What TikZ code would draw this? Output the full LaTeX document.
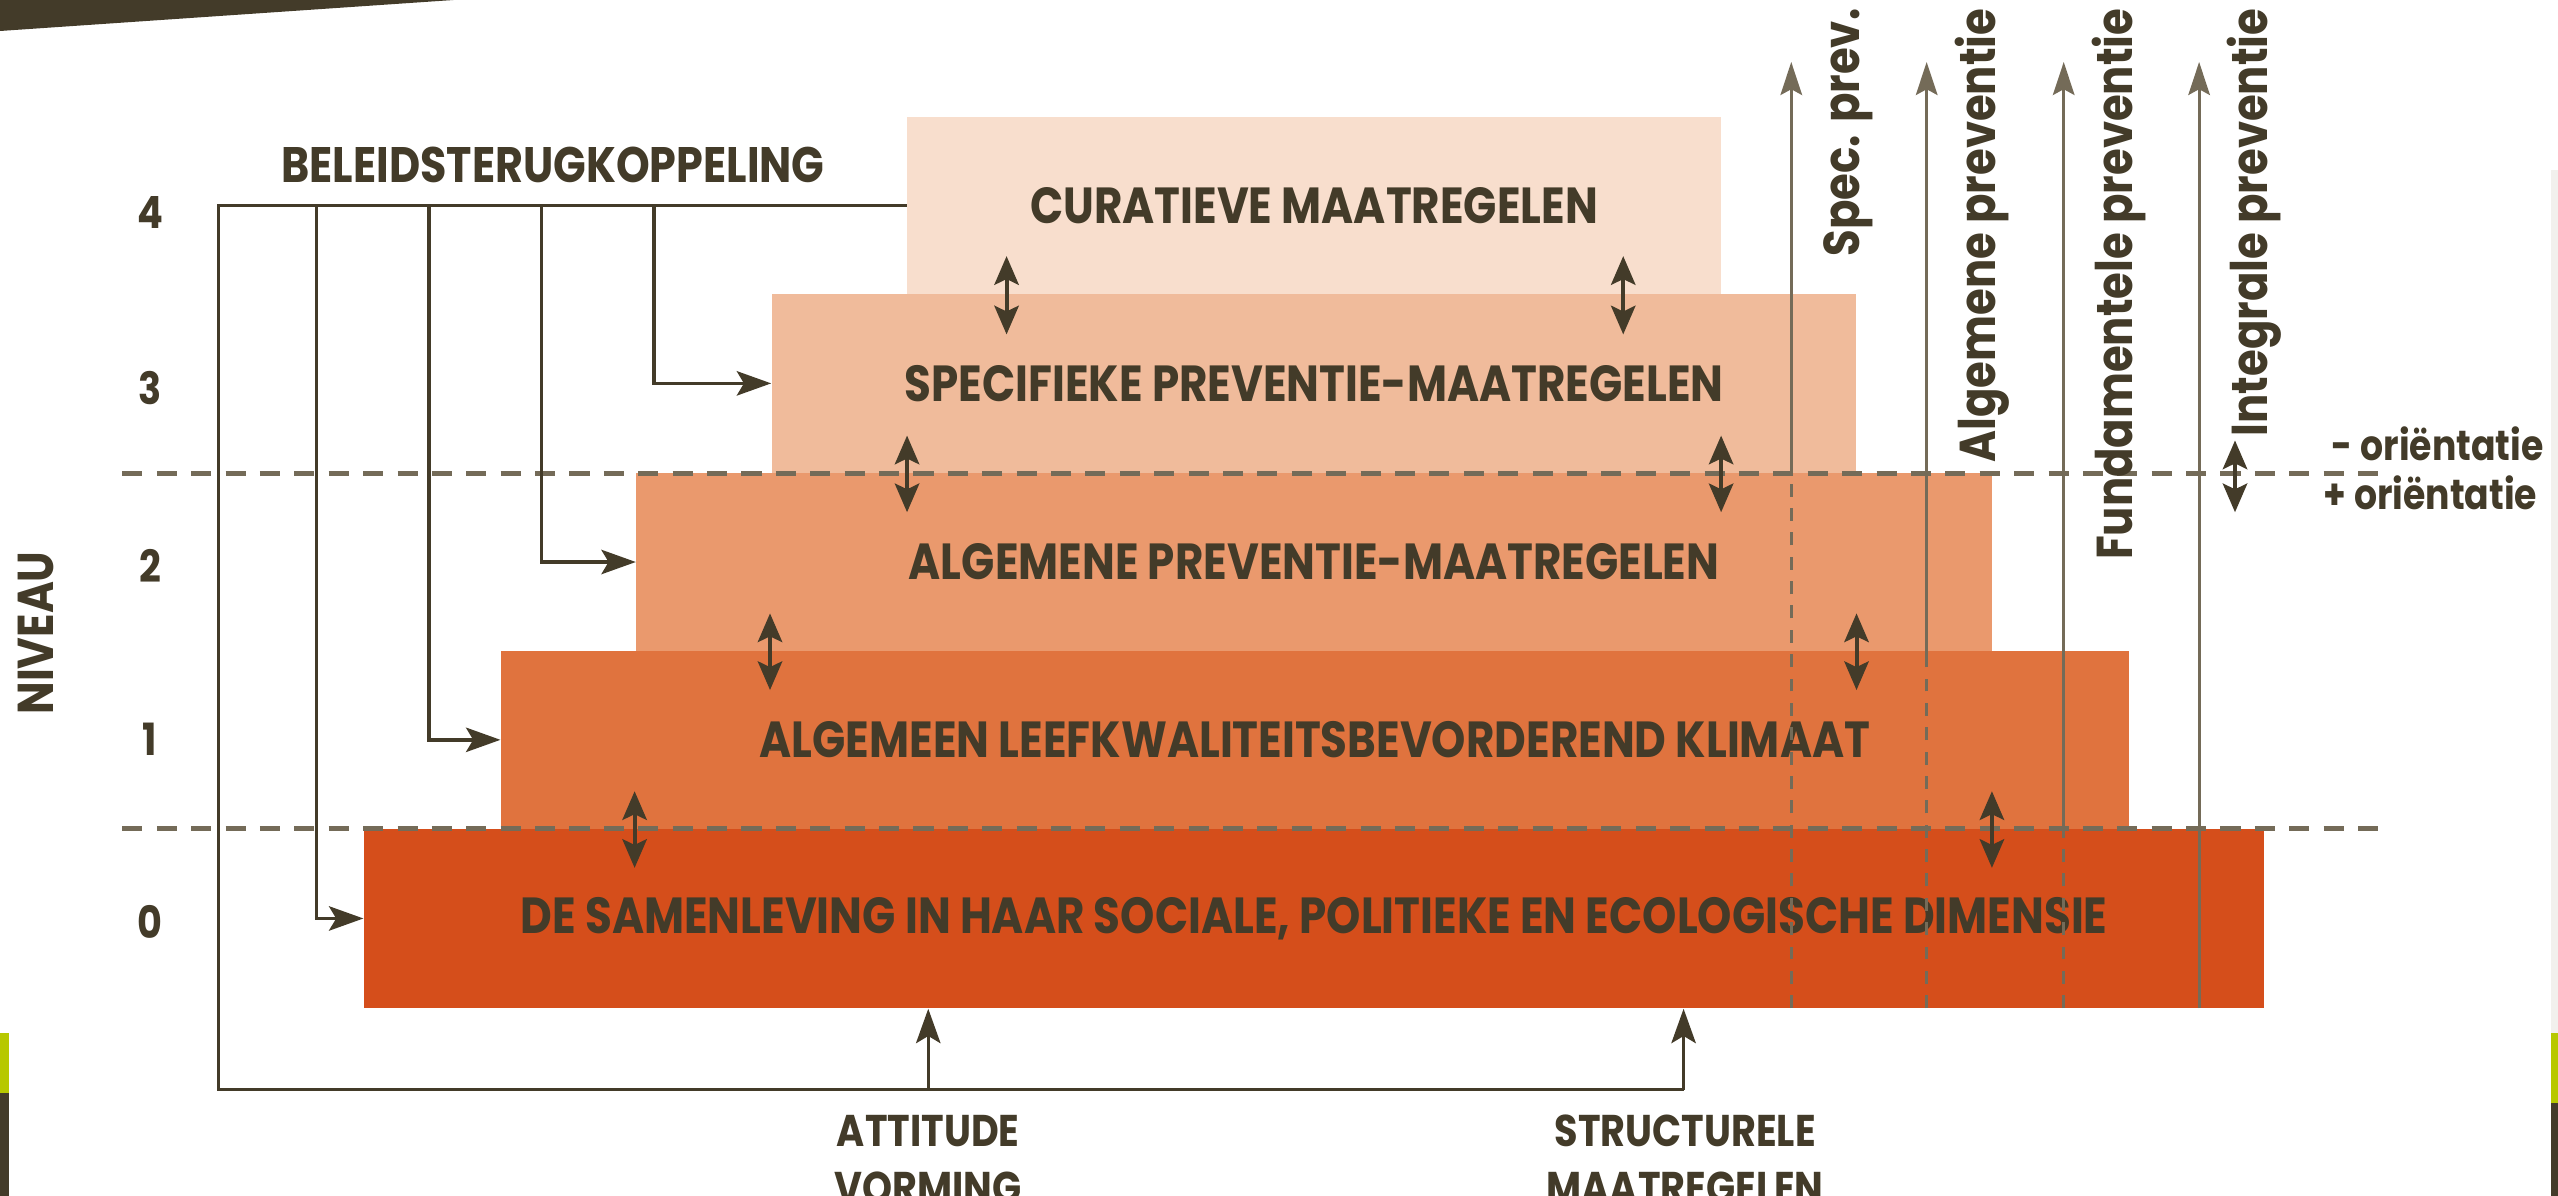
\documentclass[tikz,border=0pt]{standalone}
\usepackage{fontspec}
\newfontfamily\gothic[FakeStretch=0.86]{Poppins}
\usetikzlibrary{arrows.meta}

\definecolor{ink}{HTML}{433B29}
\definecolor{rule}{HTML}{746B58}
\definecolor{lime}{HTML}{B7C800}
\definecolor{paper}{HTML}{F2F0ED}
\definecolor{lvlzero}{HTML}{D54E1B}
\definecolor{lvlone}{HTML}{E0733E}
\definecolor{lvltwo}{HTML}{EA996D}
\definecolor{lvlthree}{HTML}{F0BB9B}
\definecolor{lvlfour}{HTML}{F8DECD}

\begin{document}
\begin{tikzpicture}[
  x=0.02cm, y=-0.02cm,
  level/.style={rectangle, inner sep=0pt, text=ink, font=\gothic\bfseries\fontsize{17.7}{20}\selectfont},
  axis/.style={text=ink, inner sep=0pt, font=\gothic\bfseries\fontsize{15.5}{20}\selectfont},
  vlabel/.style={rotate=90, anchor=base east, text=ink, inner sep=0pt, font=\gothic\bfseries\fontsize{17.6}{20}\selectfont},
  olabel/.style={anchor=west, text=ink, inner sep=0pt, font=\gothic\bfseries\fontsize{14.7}{17}\selectfont},
  fb/.style={draw=ink, line width=1.2pt},
  fbarrow/.style={fb, -{Stealth[length=12pt, width=8.5pt, inset=2.5pt]}},
  dbl/.style={draw=ink, line width=1.4pt, {Stealth[length=10pt, width=8.5pt, inset=2pt]}-{Stealth[length=10pt, width=8.5pt, inset=2pt]}},
  split/.style={draw=rule, line width=1.7pt, dash pattern=on 7pt off 5pt},
  prev/.style={draw=rule, line width=1.1pt, -{Stealth[length=11.5pt, width=7.5pt, inset=2pt]}},
  prevdash/.style={draw=rule, line width=1.1pt, dash pattern=on 4.5pt off 4pt}
]
\useasboundingbox (0,0) rectangle (1568,733);
\fill[white] (0,0) rectangle (1568,733);

% Slide trim
\fill[ink] (0,0) -- (278,0) -- (0,19) -- cycle;
\fill[lime] (0,633) rectangle (5.5,670);
\fill[ink] (0,670) rectangle (5.5,733);
\fill[paper] (1563.5,104) rectangle (1568,633);
\fill[lime] (1563.5,633) rectangle (1568,676);
\fill[ink] (1563.5,676) rectangle (1568,733);

% Five levels as stacked boxes
\node[level, fill=lvlfour, minimum width=9.98cm, minimum height=2.16cm] (L4) at (805.5,126) {CURATIEVE MAATREGELEN};
\node[level, fill=lvlthree, minimum width=13.3cm, minimum height=2.2cm] (L3) at (805.5,235) {SPECIFIEKE PREVENTIE-MAATREGELEN};
\node[level, fill=lvltwo, minimum width=16.62cm, minimum height=2.18cm] (L2) at (805.5,344.5) {ALGEMENE PREVENTIE-MAATREGELEN};
\node[level, fill=lvlone, minimum width=19.96cm, minimum height=2.18cm] (L1) at (806,453.5) {ALGEMEEN LEEFKWALITEITSBEVORDEREND KLIMAAT};
\node[level, fill=lvlzero, minimum width=23.3cm, minimum height=2.2cm] (L0) at (805.5,563) {DE SAMENLEVING IN HAAR SOCIALE, POLITIEKE EN ECOLOGISCHE DIMENSIE};

% Orientation borders
\draw[split] (75,290) -- (1466,290);
\draw[split] (75,508) -- (1466,508);

% Axis labels
\node[axis] (n4) at (92,130) {4};
\node[axis] (n3) at (92,238) {3};
\node[axis] (n2) at (92,347) {2};
\node[axis] (n1) at (92,453) {1};
\node[axis] (n0) at (92,565) {0};
\node[axis, rotate=90, font=\gothic\bfseries\fontsize{17.6}{20}\selectfont] (niveau) at (22,388) {NIVEAU};
\node[axis, font=\gothic\bfseries\fontsize{17.4}{20}\selectfont] (beleid) at (339,101) {BELEIDSTERUGKOPPELING};
\node[axis, align=center, anchor=north] (attlbl) at (569,683) {ATTITUDE\\VORMING};
\node[axis, align=center, anchor=north] (strlbl) at (1033,683) {STRUCTURELE\\MAATREGELEN};

% Policy feedback loop
\coordinate (fbtop) at (134,126);
\coordinate (fbbot) at (134,668);
\coordinate (att) at (569,668);
\coordinate (str) at (1032,668);
\draw[fb] (L4.west) -- (fbtop) -- (fbbot) -- (str);
\draw[fbarrow] (att) -- (att |- L0.south);
\draw[fbarrow] (str) -- (str |- L0.south);
\coordinate (b0) at (194,126);
\coordinate (b1) at (263,126);
\coordinate (b2) at (332,126);
\coordinate (b3) at (401,126);
\draw[fbarrow] (b0) |- (L0.west);
\draw[fbarrow] (b1) |- (L1.west);
\draw[fbarrow] (b2) |- (L2.west);
\draw[fbarrow] (b3) |- (L3.west);

% Interaction between levels
\draw[dbl] (617,157) -- (617,205);
\draw[dbl] (995,157) -- (995,205);
\draw[dbl] (556,267) -- (556,314);
\draw[dbl] (1055,267) -- (1055,314);
\draw[dbl] (472,376) -- (472,423);
\draw[dbl] (1138,376) -- (1138,423);
\draw[dbl] (389,485) -- (389,532);
\draw[dbl] (1221,485) -- (1221,532);

% Prevention reach
\coordinate (spectop) at (1098,38);
\coordinate (specmid) at (1098,290);
\coordinate (specbot) at (1098,618);
\coordinate (algtop) at (1181,38);
\coordinate (algmid) at (1181,405);
\coordinate (algbot) at (1181,618);
\coordinate (fundtop) at (1265,38);
\coordinate (fundmid) at (1265,512);
\coordinate (fundbot) at (1265,618);
\coordinate (inttop) at (1348,38);
\coordinate (intbot) at (1348,618);
\draw[prevdash] (specbot) -- (specmid);
\draw[prev] (specmid) -- (spectop);
\draw[prevdash] (algbot) -- (algmid);
\draw[prev] (algmid) -- (algtop);
\draw[prevdash] (fundbot) -- (fundmid);
\draw[prev] (fundmid) -- (fundtop);
\draw[prev] (intbot) -- (inttop);
\node[vlabel] (speclbl) at (1140,5) {Spec. prev.};
\node[vlabel] (alglbl) at (1223,5) {Algemene preventie};
\node[vlabel] (fundlbl) at (1307,5) {Fundamentele preventie};
\node[vlabel] (intlbl) at (1390,5) {Integrale preventie};

% Orientation marker
\draw[dbl] (1370,270) -- (1370,314);
\node[olabel] (minor) at (1429,272) {- oriëntatie};
\node[olabel] (plusor) at (1424,302) {+ oriëntatie};

\end{tikzpicture}
\end{document}
